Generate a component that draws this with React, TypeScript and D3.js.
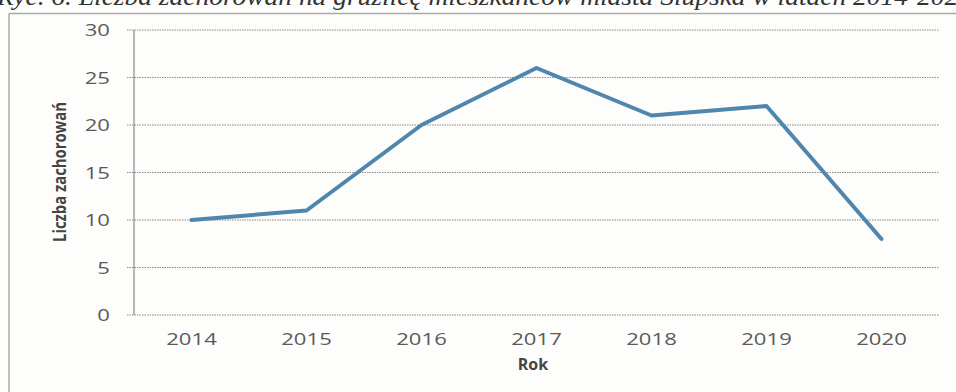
import React from "react";
import * as d3 from "d3";

const years = ["2014", "2015", "2016", "2017", "2018", "2019", "2020"];
const cases = [10, 11, 20, 26, 21, 22, 8];
const yTicks = [0, 5, 10, 15, 20, 25, 30];
const title = "Ryc. 6. Liczba zachorowań na gruźlicę mieszkańców miasta Słupska w latach 2014-2020";

export default function App() {
  const W = 956, H = 392;
  const x = d3.scaleBand<string>().domain(years).range([134, 939]);
  const y = d3.scaleLinear().domain([0, 30]).range([315, 30]);
  const line = d3.line<number>()
    .x((_, i) => (x(years[i]) as number) + x.bandwidth() / 2)
    .y((d) => y(d));
  const font = "'Open Sans', sans-serif";
  return (
    <svg width={W} height={H} style={{ position: "absolute", left: 0, top: 0, background: "#fdfdfb" }}>
      <text x={-3} y={5} fontFamily="'Liberation Serif', serif" fontStyle="italic" fontSize={26} fill="#333" textLength={975} lengthAdjust="spacingAndGlyphs">{title}</text>
      <line x1={9} x2={W} y1={13.5} y2={13.5} stroke="#aaa" strokeWidth={1.5} />
      <line x1={9} x2={9} y1={13.5} y2={H} stroke="#aaa" strokeWidth={1.5} />
      {yTicks.map((t) => (
        <g key={t}>
          <line x1={127} x2={939} y1={y(t)} y2={y(t)} stroke="#8a8a8a" strokeWidth={1} strokeDasharray="1.5 1" />
          <text transform={`translate(110,${y(t)}) scale(1.3,1)`} dy="0.36em" textAnchor="end" fontFamily={font} fontSize={17} fill="#5a5a5a">{t}</text>
        </g>
      ))}
      <line x1={134} x2={134} y1={30} y2={315} stroke="#888" strokeWidth={1.2} />
      {years.map((yr) => (
        <text key={yr} transform={`translate(${(x(yr) as number) + x.bandwidth() / 2},345) scale(1.3,1)`} textAnchor="middle" fontFamily={font} fontSize={17} fill="#5a5a5a">{yr}</text>
      ))}
      <path d={line(cases) ?? ""} fill="none" stroke="#4f86ae" strokeWidth={4} strokeLinejoin="round" strokeLinecap="round" />
      <text transform={`translate(66,${172}) rotate(-90)`} textAnchor="middle" fontFamily={font} fontWeight="bold" fontSize={18} fill="#444" textLength={140} lengthAdjust="spacingAndGlyphs">Liczba zachorowań</text>
      <text x={533} y={370} textAnchor="middle" fontFamily={font} fontWeight="bold" fontSize={16} fill="#444">Rok</text>
    </svg>
  );
}
